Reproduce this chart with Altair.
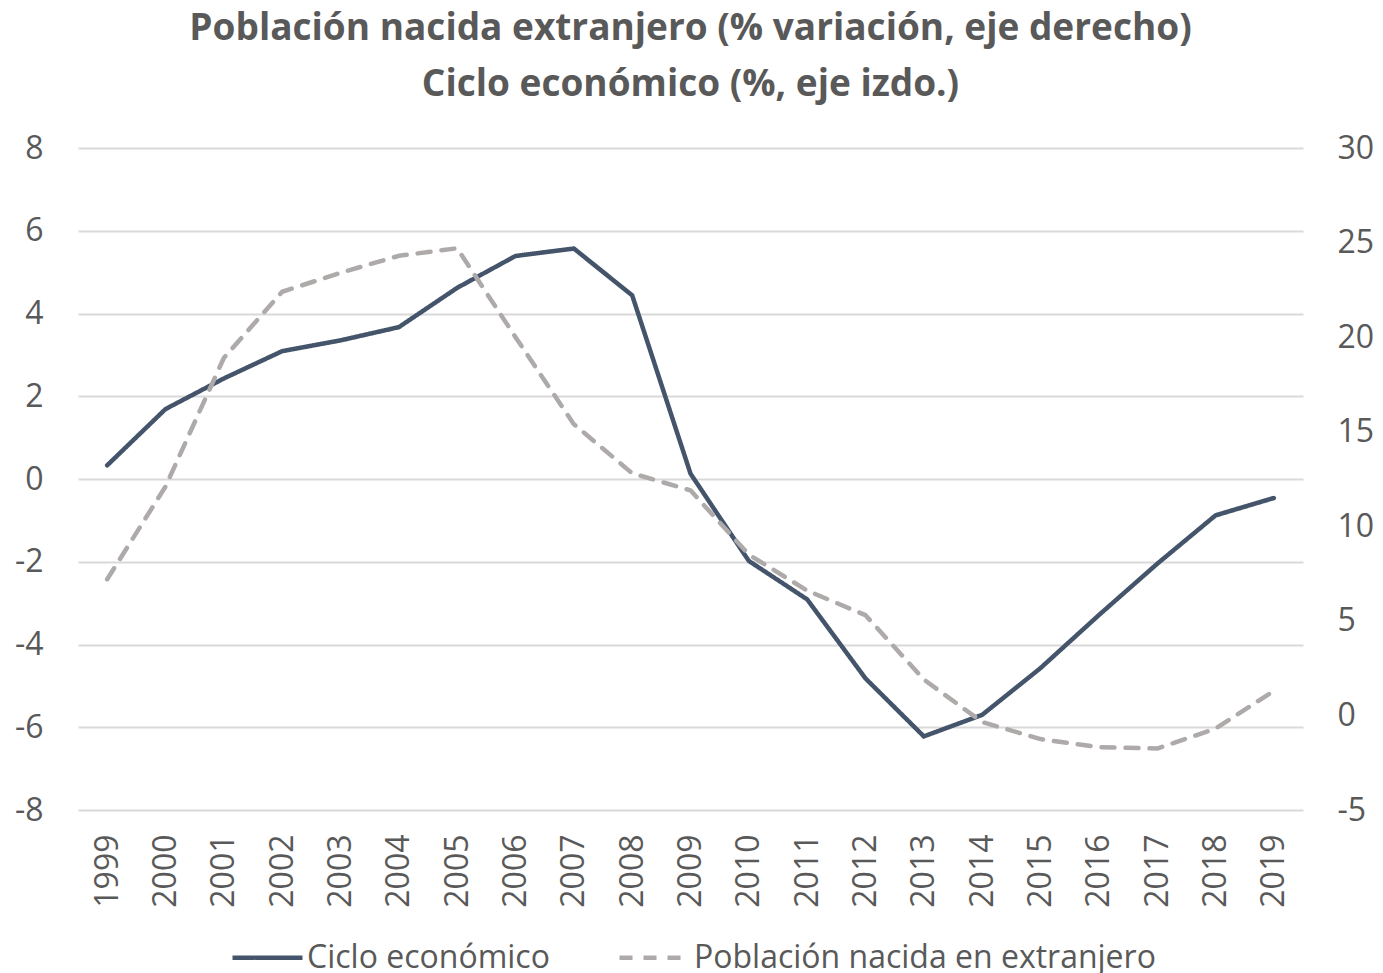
import altair as alt
import pandas as pd

years = [str(y) for y in range(1999, 2020)]
ciclo = [0.33, 1.69, 2.43, 3.09, 3.35, 3.67, 4.62, 5.39, 5.57, 4.44, 0.13,
         -1.98, -2.91, -4.82, -6.22, -5.70, -4.57, -3.29, -2.05, -0.88, -0.46]
poblacion = [7.2, 12.1, 18.9, 22.4, 23.4, 24.3, 24.7, 20.0, 15.4, 12.8, 11.9,
             8.5, 6.6, 5.3, 1.9, -0.35, -1.25, -1.68, -1.75, -0.7, 1.3]
series_names = ["Ciclo económico", "Población nacida en extranjero"]
left_ticks = [-8, -6, -4, -2, 0, 2, 4, 6, 8]
right_ticks = [-5, 0, 5, 10, 15, 20, 25, 30]

df1 = pd.DataFrame({"year": years, "value": ciclo, "serie": series_names[0]})
df2 = pd.DataFrame({"year": years, "value": poblacion, "serie": series_names[1]})

FONT = "Open Sans"
TXT = "#595959"

color = alt.Color("serie:N", scale=alt.Scale(domain=series_names, range=["#44546A", "#AEAAAA"]),
                  legend=alt.Legend(title=None, orient="none", direction="horizontal",
                                    legendX=152, legendY=772,
                                    symbolType="stroke", symbolSize=4900, symbolStrokeWidth=4.5,
                                    labelFontSize=32, labelFont=FONT, labelColor=TXT,
                                    labelLimit=0, columnPadding=60, labelOffset=2))
dash = alt.StrokeDash("serie:N", scale=alt.Scale(domain=series_names, range=[[1, 0], [13, 11]]),
                      legend=None)

x = alt.X("year:O", title=None, scale=alt.Scale(type="point", padding=0.5),
          axis=alt.Axis(labelAngle=-90, labelFontSize=32, labelFont=FONT, labelColor=TXT,
                        domain=False, ticks=False, grid=False, labelPadding=24))

line1 = alt.Chart(df1).mark_line(strokeWidth=4.5, strokeCap="round", strokeJoin="miter").encode(
    x=x,
    y=alt.Y("value:Q", title=None, scale=alt.Scale(domain=[-8, 8], nice=False, zero=False),
            axis=alt.Axis(orient="left", values=left_ticks, labelFontSize=32, labelFont=FONT,
                          labelColor=TXT, domain=False, ticks=False, grid=True,
                          labelExpr="datum.value + ''",
                          gridColor="#D9D9D9", gridWidth=2, labelPadding=35,
                          minExtent=70, maxExtent=70)),
    color=color,
    strokeDash=dash,
)

line2 = alt.Chart(df2).mark_line(strokeWidth=4.5, strokeCap="round", strokeJoin="round").encode(
    x=x,
    y=alt.Y("value:Q", title=None, scale=alt.Scale(domain=[-5, 30], nice=False, zero=False),
            axis=alt.Axis(orient="right", values=right_ticks, labelFontSize=32, labelFont=FONT,
                          labelColor=TXT, domain=False, ticks=False, grid=False,
                          labelExpr="datum.value + ''",
                          labelPadding=34)),
    color=color,
    strokeDash=dash,
)

chart = alt.layer(line1, line2).resolve_scale(y="independent").properties(
    width=1225, height=662,
    padding={"left": 0, "top": 2, "right": 0, "bottom": 0},
    background="white",
    title=alt.Title(["Población nacida extranjero (% variación, eje derecho)",
                     "Ciclo económico (%, eje izdo.)"],
                    font=FONT, fontSize=37, fontWeight="bold", color=TXT,
                    lineHeight=56, anchor="middle", offset=28),
).configure_view(stroke=None, strokeWidth=0)

chart.save("out.html", embed_options={"renderer": "svg", "actions": False})
